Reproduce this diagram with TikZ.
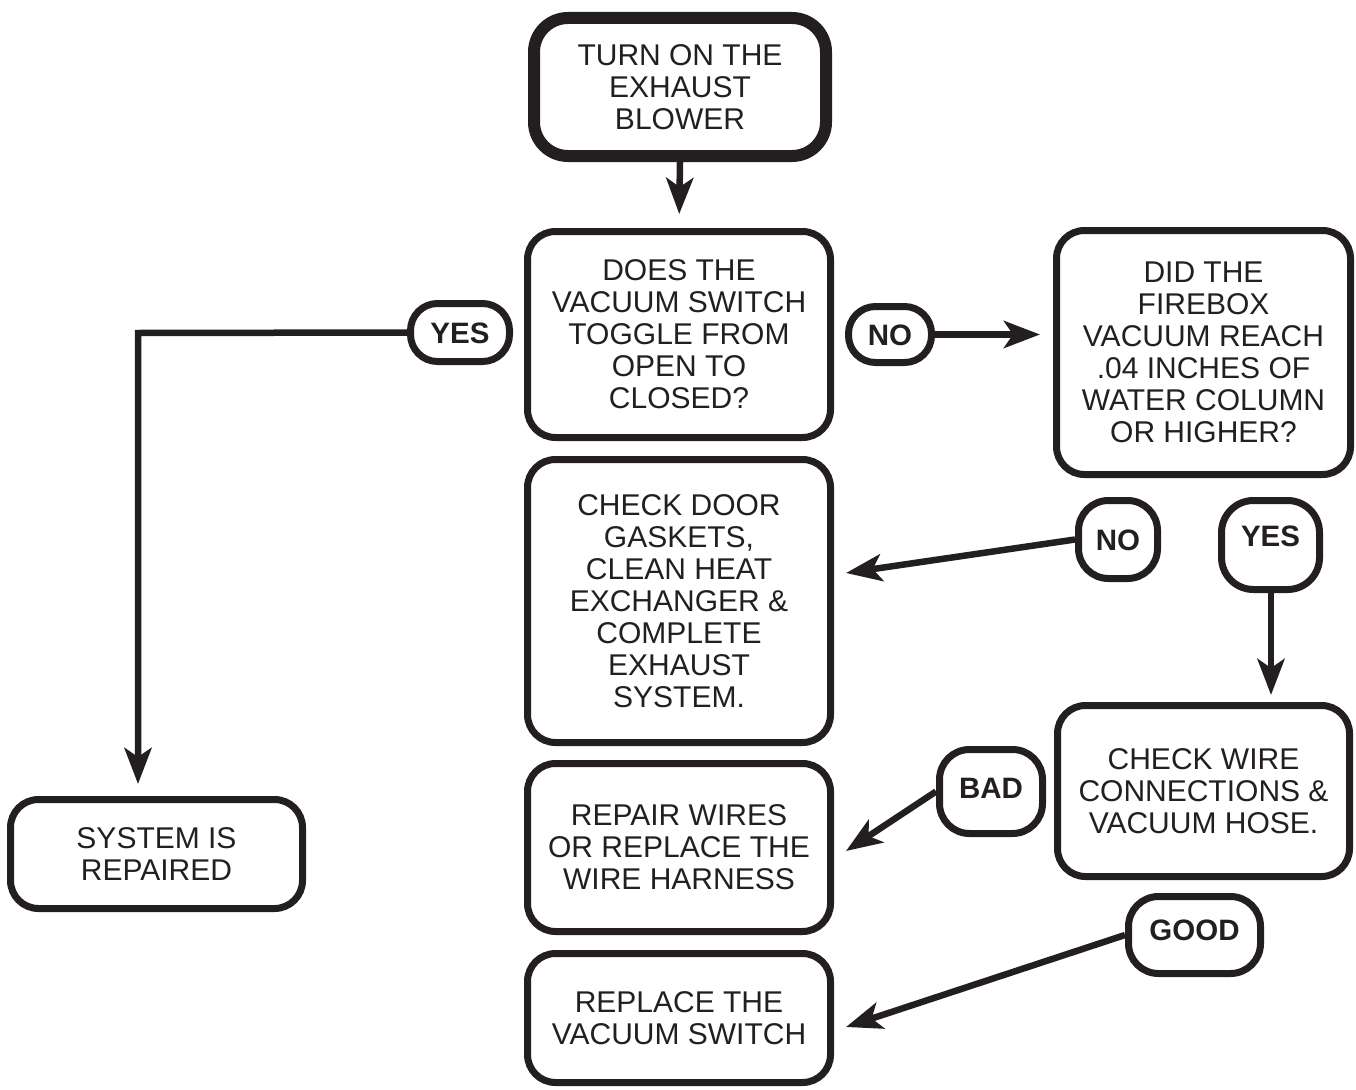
\documentclass[tikz,border=0pt]{standalone}
\usepackage{fontspec}
\setmainfont{Liberation Sans}
\usetikzlibrary{arrows.meta}
\definecolor{ink}{HTML}{231F20}
\begin{document}
\begin{tikzpicture}[x=1pt,y=-1pt,
  box/.style={draw=ink, line width=7pt, rounded corners=28pt, align=center,
    inner sep=0pt, text=ink, font=\fontsize{30}{32}\selectfont},
  tag/.style={draw=ink, line width=7pt, rounded corners=27pt, inner sep=0pt,
    text=ink, font=\fontsize{29.5}{31}\selectfont\bfseries,
    text height=21pt, text depth=0pt},
  arr/.style={draw=ink, line width=6.5pt,
    -{Stealth[length=36pt,width=27pt,inset=9pt]}},
]
\useasboundingbox (0,0) rectangle (1356,1089);

% process and decision boxes
\node[box, line width=12pt, rounded corners=34pt, minimum width=292pt, minimum height=138pt]
  (start) at (680,87) {TURN ON THE\\EXHAUST\\BLOWER};
\node[box, minimum width=303pt, minimum height=206pt]
  (toggle) at (679,334.5) {DOES THE\\VACUUM SWITCH\\TOGGLE FROM\\OPEN TO\\CLOSED?};
\node[box, minimum width=303pt, minimum height=283pt]
  (door) at (679,601) {CHECK DOOR\\GASKETS,\\CLEAN HEAT\\EXCHANGER \&\\COMPLETE\\EXHAUST\\SYSTEM.};
\node[box, minimum width=303pt, minimum height=168pt]
  (repair) at (679,847.5) {REPAIR WIRES\\OR REPLACE THE\\WIRE HARNESS};
\node[box, minimum width=303pt, minimum height=129pt]
  (replace) at (679,1018) {REPLACE THE\\VACUUM SWITCH};
\node[box, minimum width=294pt, minimum height=244pt]
  (firebox) at (1203.5,352.5) {DID THE\\FIREBOX\\VACUUM REACH\\.04 INCHES OF\\WATER COLUMN\\OR HIGHER?};
\node[box, minimum width=292pt, minimum height=171pt]
  (wires) at (1203.5,791) {CHECK WIRE\\CONNECTIONS \&\\VACUUM HOSE.};
\node[box, minimum width=292pt, minimum height=109pt]
  (done) at (156.5,854) {SYSTEM IS\\REPAIRED};

% answer tags
\node[tag, minimum width=99pt, minimum height=58pt] (yesA) at (460,332.5) {YES};
\node[tag, minimum width=83pt, minimum height=56pt] (noA) at (890,334.5) {NO};
\node[tag, minimum width=79pt, minimum height=78pt, rounded corners=30pt] (noB) at (1118,539.5) {NO};
\node[tag, minimum width=98pt, minimum height=89pt, rounded corners=32pt, text depth=18pt] (yesB) at (1270.5,545) {YES};
\node[tag, minimum width=103pt, minimum height=84pt, rounded corners=30pt, text depth=8pt] (bad) at (991,791.5) {BAD};
\node[tag, minimum width=132pt, minimum height=77pt, rounded corners=30pt, text depth=10pt] (good) at (1194.5,935) {GOOD};

% free ends of the slanted connectors
\coordinate (bend) at (138,333);
\coordinate (doorIn) at (846,573);
\coordinate (repairIn) at (846,851);
\coordinate (replaceIn) at (846,1027);

% connectors
\draw[arr, shorten >=14pt] (start.south) -- (toggle.north);
\draw[arr, shorten >=13pt] (noA.east) -- (noA.east -| firebox.west);
\draw[arr, shorten >=12pt] (yesA.west) -- (bend) -- (bend |- done.north);
\draw[arr] (noB.west) -- (doorIn);
\draw[arr, shorten >=7pt] (yesB.south -| 1271,0) -- (wires.north -| 1271,0);
\draw[arr] (bad.west) -- (repairIn);
\draw[arr] (good.west) -- (replaceIn);
\end{tikzpicture}
\end{document}
